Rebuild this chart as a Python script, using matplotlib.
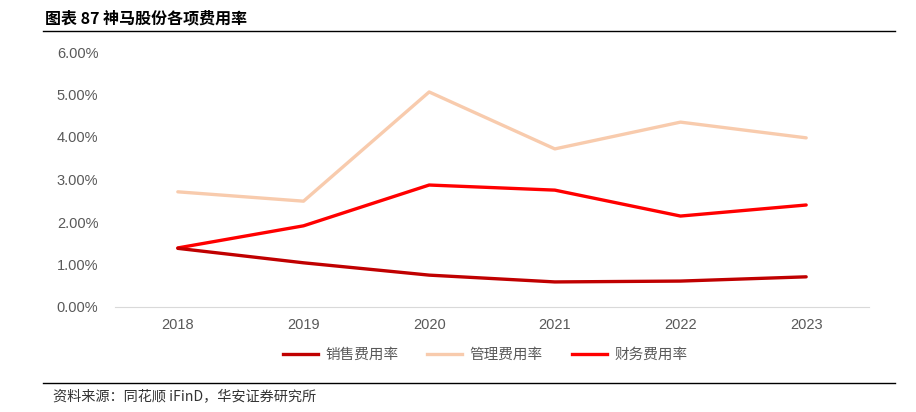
import matplotlib
matplotlib.use("Agg")
import matplotlib.pyplot as plt
from matplotlib.lines import Line2D

plt.rcParams['font.family'] = ['Liberation Sans', 'Noto Sans CJK SC', 'DejaVu Sans']

years = ["2018", "2019", "2020", "2021", "2022", "2023"]
sales_rate = [1.38, 1.04, 0.75, 0.59, 0.61, 0.71]
admin_rate = [2.71, 2.49, 5.06, 3.72, 4.35, 3.98]
fin_rate = [1.39, 1.91, 2.87, 2.75, 2.14, 2.40]
series_names = ["销售费用率", "管理费用率", "财务费用率"]
colors = ["#C00000", "#F8CBAD", "#FF0000"]
yticks = [0, 1, 2, 3, 4, 5, 6]

W, H = 916, 412
fig = plt.figure(figsize=(W / 100, H / 100), dpi=100)

ax = fig.add_axes([115 / W, 1 - 307 / H, (869 - 115) / W, (307 - 52) / H])
x = list(range(len(years)))
for vals, c in zip([admin_rate, fin_rate, sales_rate], [colors[1], colors[2], colors[0]]):
    ax.plot(x, vals, color=c, lw=2.4, solid_capstyle='round', solid_joinstyle='round')

ax.set_xlim(-0.5, len(years) - 0.5)
ax.set_ylim(0, 6)
ax.set_yticks(yticks)
ax.set_yticklabels([f"{v:.2f}%" for v in yticks])
ax.set_xticks(x)
ax.set_xticklabels(years)
for s in ['top', 'right', 'left']:
    ax.spines[s].set_visible(False)
ax.spines['bottom'].set_color('#D9D9D9')
ax.tick_params(axis='both', length=0, labelsize=10.5, colors='#595959', pad=8)
ax.tick_params(axis='y', pad=12)

handles = [Line2D([0], [0], color=c, lw=2.4) for c in colors]
fig.legend(handles, series_names, loc='center', bbox_to_anchor=(485 / W, 1 - 355 / H),
           ncol=3, frameon=False, handlelength=2.4, columnspacing=2.0, handletextpad=0.5,
           prop={'family': ['Noto Sans CJK SC'], 'size': 10.5}, labelcolor='#595959')

fig.text(45 / W, 1 - 18 / H, "图表 87 神马股份各项费用率", fontsize=11.5, fontweight='bold',
         family=['Noto Sans CJK SC', 'DejaVu Sans'], va='center', ha='left', color='black')
fig.add_artist(Line2D([43 / W, 895 / W], [1 - 31 / H, 1 - 31 / H], color='black', lw=1))
fig.add_artist(Line2D([43 / W, 895 / W], [1 - 383 / H, 1 - 383 / H], color='black', lw=1))
fig.text(53 / W, 1 - 397 / H, "资料来源：同花顺 iFinD，华安证券研究所", fontsize=10.2,
         family=['Noto Sans CJK SC', 'DejaVu Sans'], va='center', ha='left', color='#333333')

fig.savefig("out.png", dpi=100)
